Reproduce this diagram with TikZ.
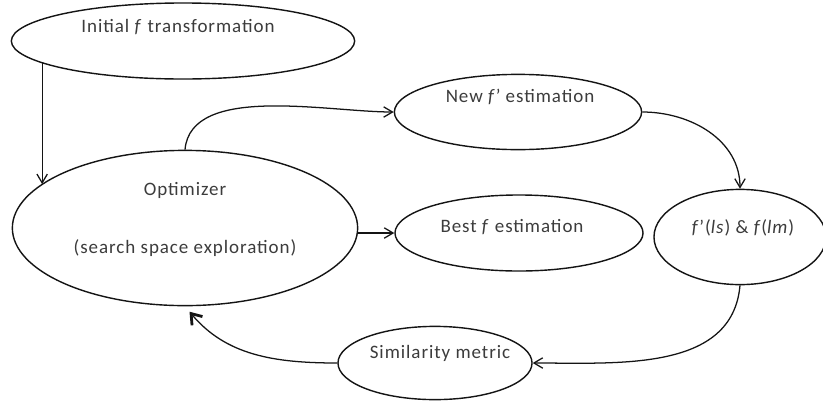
\documentclass[tikz,border=0pt]{standalone}
\usepackage{fontspec}
\setmainfont{Carlito}[LetterSpace=5]
\usetikzlibrary{arrows.meta,shapes.geometric}
\definecolor{Ink}{RGB}{20,20,20}
\definecolor{TextGray}{RGB}{60,60,60}
\tikzset{
  blob/.style={ellipse,draw=Ink,line width=1pt,fill=white,inner sep=0pt},
  txt/.style={font=\fontsize{13.5}{16}\selectfont,text=TextGray,inner sep=0pt},
  arr/.style={-{Straight Barb[length=2.2mm,width=2.6mm]},line width=.9pt,draw=Ink},
  back/.style={-{Straight Barb[length=2.4mm,width=3.4mm,line width=2pt]},line width=.9pt,draw=Ink,shorten >=5pt}
}

\begin{document}
\begin{tikzpicture}[x=.025cm,y=-.025cm]
  \useasboundingbox[fill=white] (0,0) rectangle (823,403);
  % ellipses
  \node[blob,minimum width=8.58cm,minimum height=1.9cm] (init) at (183,41) {};
  \node[blob,minimum width=8.63cm,minimum height=3.88cm] (opt) at (185,228) {};
  \node[blob,minimum width=6.18cm,minimum height=1.88cm] (new) at (518,112) {};
  \node[blob,minimum width=6.2cm,minimum height=1.9cm] (best) at (519,233) {};
  \node[blob,minimum width=4.3cm,minimum height=2.38cm] (fls) at (740,237) {};
  \node[blob,minimum width=4.85cm,minimum height=1.83cm] (sim) at (435,363) {};
  % texts
  \node[txt] (initTxt) at (178,27) {Initial \textit{f} transformation};
  \node[txt] (optTxt) at (185,190) {Optimizer};
  \node[txt] (optSub) at (185,248) {(search space exploration)};
  \node[txt] (newTxt) at (520,97) {New \textit{f}' estimation};
  \node[txt] (bestTxt) at (512,227) {Best \textit{f} estimation};
  \node[txt] (flsTxt) at (743,228) {\textit{f}'(\textit{ls}) \& \textit{f}(\textit{lm})};
  \node[txt] (simTxt) at (440,353) {Similarity metric};
  % connectors
  \draw[arr] (init.189) -- (init.189 |- opt.163);
  \draw[arr] (opt.north) to[out=85,in=180,looseness=.8] (new.west);
  \draw[arr] (best.west -| opt.east) -- (best.west);
  \draw[arr] (new.east) to[out=0,in=90] (fls.north);
  \draw[arr] (fls.south) to[out=-95,in=0] (sim.east);
  \draw[back] (sim.west) to[out=180,in=-50] (opt.south);
\end{tikzpicture}
\end{document}
